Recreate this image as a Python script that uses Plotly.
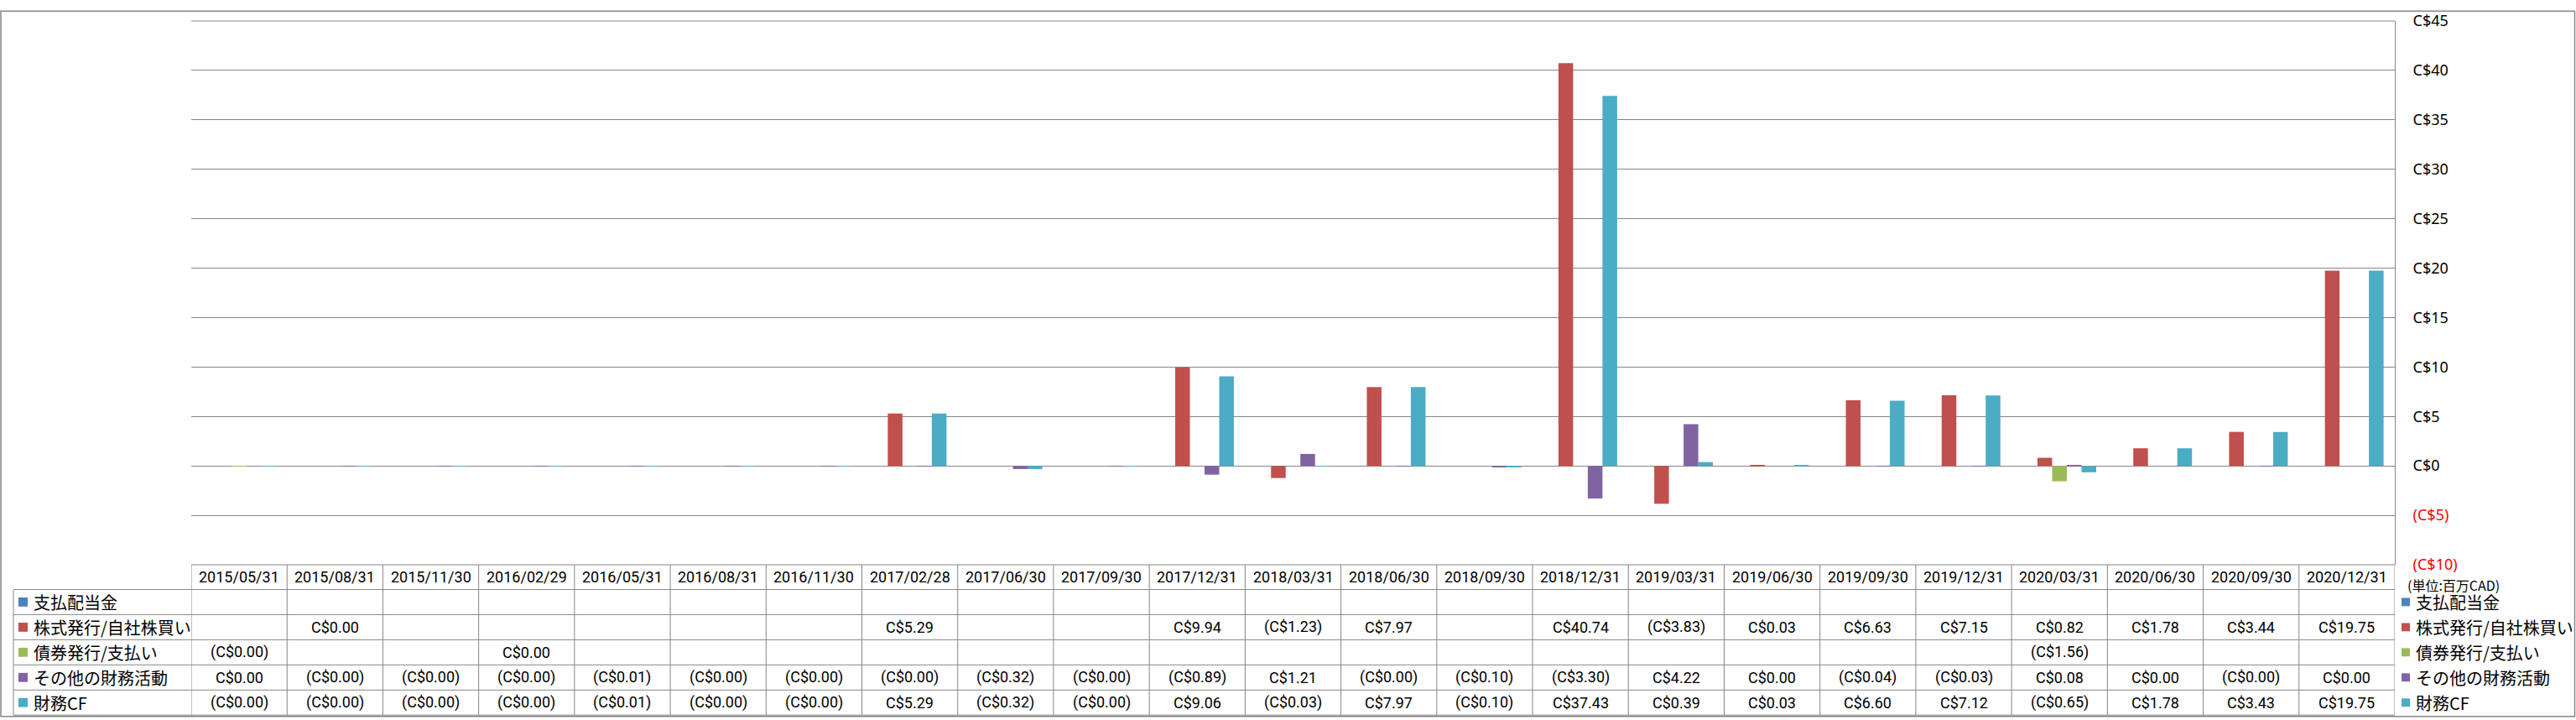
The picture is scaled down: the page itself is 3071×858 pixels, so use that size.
import plotly.graph_objects as go

# ---------------- data ----------------
dates = ["2015/05/31", "2015/08/31", "2015/11/30", "2016/02/29", "2016/05/31", "2016/08/31",
         "2016/11/30", "2017/02/28", "2017/06/30", "2017/09/30", "2017/12/31", "2018/03/31",
         "2018/06/30", "2018/09/30", "2018/12/31", "2019/03/31", "2019/06/30", "2019/09/30",
         "2019/12/31", "2020/03/31", "2020/06/30", "2020/09/30", "2020/12/31"]

series_names = ["支払配当金", "株式発行/自社株買い", "債券発行/支払い", "その他の財務活動", "財務CF"]

dividends = [None] * 23
shares = [None, 0.0, None, None, None, None, None, 5.29, None, None, 9.94, -1.23,
          7.97, None, 40.74, -3.83, 0.03, 6.63, 7.15, 0.82, 1.78, 3.44, 19.75]
debt = [-0.002, None, None, 0.0, None, None, None, None, None, None, None, None,
        None, None, None, None, None, None, None, -1.56, None, None, None]
other = [0.0, -0.002, -0.002, -0.002, -0.01, -0.002, -0.002, -0.002, -0.32, -0.002, -0.89, 1.21,
         -0.002, -0.10, -3.30, 4.22, 0.0, -0.04, -0.03, 0.08, 0.0, -0.002, 0.0]
fin_cf = [-0.002, -0.002, -0.002, -0.002, -0.01, -0.002, -0.002, 5.29, -0.32, -0.002, 9.06, -0.03,
          7.97, -0.10, 37.43, 0.39, 0.03, 6.60, 7.12, -0.65, 1.78, 3.43, 19.75]

colors = ["#4F81BD", "#C0504D", "#9BBB59", "#8064A2", "#4BACC6"]
tick_vals = [45, 40, 35, 30, 25, 20, 15, 10, 5, 0, -5, -10]
unit_label = "(単位:百万CAD)"
y_min, y_max = -10, 45

all_series = [dividends, shares, debt, other, fin_cf]

# ---------------- geometry ----------------
W, H = 3071, 858
PX_L, PX_R, PX_T, PX_B = 228, 2855, 13, 673
WP, HP = PX_R - PX_L, PX_B - PX_T


def pxx(p):
    return (p - PX_L) / WP


def pxy(p):
    return (PX_B - p) / HP


def fmt(v):
    if v is None:
        return ""
    if v < 0:
        return "(C${:,.2f})".format(abs(v))
    return "C${:,.2f}".format(v)


def tfmt(v):
    if v < 0:
        return '<span style="color:#FF0000">(C${})</span>'.format(abs(v))
    return "C${}".format(v)


GRID = "#868686"
NUM_FONT = dict(family="Roboto, Liberation Sans, sans-serif", size=18, color="#000000")
JP_FONT = dict(family="Noto Sans CJK JP, sans-serif", size=20, color="#000000")

fig = go.Figure()
for name, vals, c in zip(series_names, all_series, colors):
    fig.add_trace(go.Bar(x=list(range(len(dates))), y=vals, name=name,
                         marker=dict(color=c, line=dict(width=0)), showlegend=False))

shapes = []
annotations = []

# top gridline (range end)
shapes.append(dict(type="line", xref="paper", yref="paper", x0=0, x1=1, y0=1, y1=1,
                   line=dict(color=GRID, width=1)))

# table rows
header_top, header_bot = 673, 703
row_h = 30.5
row_edges = [header_bot + i * row_h for i in range(6)]
table_bot = row_edges[-1]

# vertical lines of the table (category boundaries)
for i in range(len(dates) + 1):
    shapes.append(dict(type="line", xref="x", yref="paper", x0=i - 0.5, x1=i - 0.5,
                       y0=pxy(header_top), y1=pxy(table_bot), line=dict(color=GRID, width=1)))
# left border of label column
shapes.append(dict(type="line", xref="paper", yref="paper", x0=pxx(16), x1=pxx(16),
                   y0=pxy(header_bot), y1=pxy(table_bot), line=dict(color=GRID, width=1)))
# header top
shapes.append(dict(type="line", xref="paper", yref="paper", x0=0, x1=1,
                   y0=pxy(header_top), y1=pxy(header_top), line=dict(color=GRID, width=1)))
for e in row_edges:
    shapes.append(dict(type="line", xref="paper", yref="paper", x0=pxx(16), x1=1,
                       y0=pxy(e), y1=pxy(e), line=dict(color=GRID, width=1)))

# header dates
for i, d in enumerate(dates):
    annotations.append(dict(x=i, y=pxy((header_top + header_bot) / 2), xref="x", yref="paper",
                            text=d, showarrow=False, font=NUM_FONT,
                            xanchor="center", yanchor="middle"))

# rows
for r, (name, vals, c) in enumerate(zip(series_names, all_series, colors)):
    yc = (row_edges[r] + row_edges[r + 1]) / 2
    # left key + label
    shapes.append(dict(type="rect", xref="paper", yref="paper", x0=pxx(22), x1=pxx(33),
                       y0=pxy(yc + 5.5), y1=pxy(yc - 5.5), fillcolor=c, line=dict(width=0)))
    annotations.append(dict(x=pxx(38), y=pxy(yc), xref="paper", yref="paper", text=name,
                            showarrow=False, font=JP_FONT, xanchor="left", yanchor="middle"))
    # right legend
    shapes.append(dict(type="rect", xref="paper", yref="paper", x0=pxx(2863), x1=pxx(2873),
                       y0=pxy(yc + 5), y1=pxy(yc - 5), fillcolor=c, line=dict(width=0)))
    annotations.append(dict(x=pxx(2878), y=pxy(yc), xref="paper", yref="paper", text=name,
                            showarrow=False, font=JP_FONT, xanchor="left", yanchor="middle"))
    for i, v in enumerate(vals):
        t = fmt(v)
        if t:
            annotations.append(dict(x=i, y=pxy(yc), xref="x", yref="paper", text=t,
                                    showarrow=False, font=NUM_FONT,
                                    xanchor="center", yanchor="middle"))

# unit label
annotations.append(dict(x=pxx(2868), y=pxy(697), xref="paper", yref="paper", text=unit_label,
                        showarrow=False, font=dict(family="Noto Sans CJK JP, sans-serif", size=16,
                                                   color="#000000"),
                        xanchor="left", yanchor="middle"))

# outer chart border
shapes.append(dict(type="rect", xref="paper", yref="paper", x0=pxx(1), x1=pxx(3069.5),
                   y0=pxy(857), y1=pxy(1), line=dict(color=GRID, width=1.5),
                   fillcolor="rgba(0,0,0,0)"))

fig.update_layout(
    width=W, height=H,
    margin=dict(l=PX_L, r=W - PX_R, t=PX_T, b=H - PX_B, pad=0),
    paper_bgcolor="white", plot_bgcolor="white",
    barmode="group", bargap=0.234, bargroupgap=0,
    showlegend=False,
    shapes=shapes, annotations=annotations,
    xaxis=dict(range=[-0.5, len(dates) - 0.5], showticklabels=False, showgrid=False,
               zeroline=False, showline=False, ticks=""),
    yaxis=dict(range=[y_min, y_max], side="right", tickvals=tick_vals,
               ticktext=[tfmt(v) for v in tick_vals],
               tickfont=dict(family="Noto Sans, sans-serif", size=18, color="#000000"),
               showgrid=True, gridcolor=GRID, gridwidth=1,
               zeroline=True, zerolinecolor=GRID, zerolinewidth=1,
               showline=True, linecolor=GRID, linewidth=1, ticks="",
               ticklabelstandoff=17),
)

fig.write_html("out.html")
